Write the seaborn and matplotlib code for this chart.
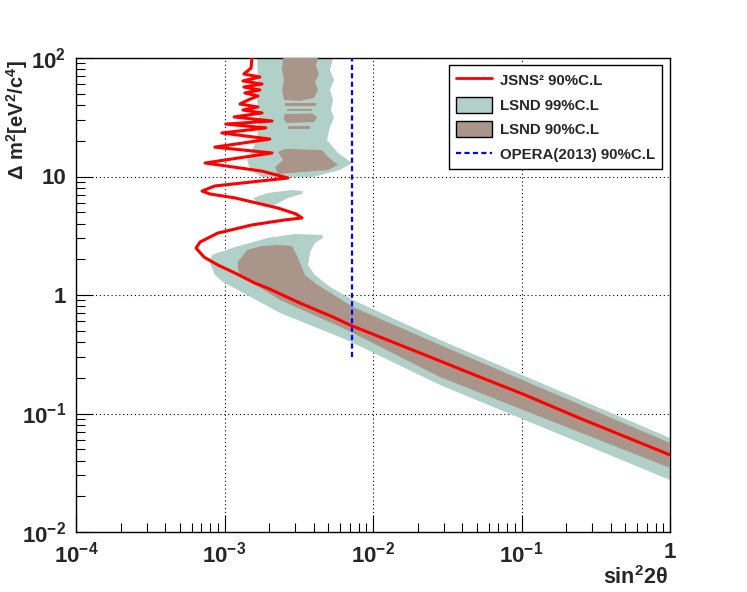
import matplotlib
matplotlib.use("Agg")
import matplotlib.pyplot as plt
import seaborn as sns
import pandas as pd
from matplotlib.ticker import LogLocator, NullFormatter, FixedLocator, FixedFormatter
from matplotlib.patches import Patch
from matplotlib.lines import Line2D

# ---------------- data ----------------
jsns_sin2 = [1.53e-3, 1.51e-3, 1.35e-3, 1.73e-3, 1.33e-3, 1.79e-3, 1.35e-3, 1.73e-3, 1.37e-3, 1.68e-3,
             1.44e-3, 1.27e-3, 1.68e-3, 1.33e-3, 1.79e-3, 1.16e-3, 2.09e-3, 1.02e-3, 1.90e-3, 9.6e-4,
             2.02e-3, 8.6e-4, 2.09e-3, 7.4e-4, 1.01e-3, 1.79e-3, 2.68e-3, 8.6e-4, 7.06e-4, 7.98e-4,
             1.18e-3, 2.29e-3, 3.03e-3, 3.33e-3, 2.55e-3, 1.53e-3, 9.0e-4, 6.84e-4, 6.43e-4, 7.28e-4,
             9.03e-4, 1.18e-3, 1.60e-3, 1.93e-3, 3.22e-3, 5.38e-3, 7.0e-3, 0.0111, 0.0242, 0.0525,
             0.102, 0.248, 1.0]
jsns_dm2 = [100, 82.3, 73.3, 69.1, 64.0, 60.3, 56.9, 53.7, 50.7, 47.8,
            44.2, 40.9, 38.6, 36.4, 34.4, 31.8, 29.4, 27.7, 25.7, 23.3,
            20.7, 17.7, 15.8, 13.0, 12.3, 11.1, 9.71, 8.32, 7.54, 7.12,
            6.59, 5.42, 4.83, 4.47, 4.30, 3.90, 3.33, 2.80, 2.49, 2.09,
            1.79, 1.53, 1.26, 1.15, 0.856, 0.652, 0.558, 0.443, 0.300, 0.203,
            0.146, 0.091, 0.0447]

# LSND 99% C.L. regions
lsnd99_top_sin2 = [1.66e-3, 5.38e-3, 5.13e-3, 5.46e-3, 5.13e-3, 5.38e-3, 5.21e-3, 5.46e-3, 5.13e-3, 4.90e-3,
                   5.38e-3, 5.81e-3, 7.22e-3, 6.00e-3, 3.94e-3, 1.79e-3, 1.49e-3, 1.42e-3, 1.53e-3, 1.66e-3,
                   1.71e-3, 1.66e-3, 1.68e-3]
lsnd99_top_dm2 = [100, 100, 79.3, 65.2, 53.7, 44.2, 36.4, 31.2, 26.2, 20.3,
                  17.7, 15.8, 13.0, 11.35, 9.9, 9.9, 11.35, 13.8, 16.7, 20.3,
                  30.0, 44.2, 65.2]
lsnd99_mid_sin2 = [1.56e-3, 1.96e-3, 2.85e-3, 3.38e-3, 3.33e-3, 2.68e-3, 2.37e-3, 2.12e-3, 1.88e-3, 1.68e-3]
lsnd99_mid_dm2 = [6.59, 7.26, 7.69, 7.54, 7.12, 6.59, 6.09, 5.64, 5.53, 5.98]
lsnd99_band_sin2 = [8.24e-4, 1.18e-3, 1.96e-3, 2.99e-3, 4.54e-3, 4.61e-3, 4.07e-3, 3.77e-3, 3.65e-3, 4.07e-3,
                    5.13e-3, 7.33e-3, 0.0283, 1.0, 1.0, 0.0283, 6.68e-3, 2.37e-3, 9.77e-4, 8.63e-4, 7.98e-4]
lsnd99_band_dm2 = [2.18, 2.54, 3.03, 3.27, 3.21, 3.03, 2.75, 2.31, 1.79, 1.47,
                   1.17, 0.908, 0.417, 0.0621, 0.0275, 0.174, 0.417, 0.705, 1.29, 1.47, 1.86]

# LSND 90% C.L. regions
lsnd90_top_sin2 = [2.48e-3, 4.26e-3, 4.13e-3, 4.33e-3, 4.07e-3, 4.26e-3, 4.01e-3, 3.22e-3, 2.52e-3, 2.44e-3, 2.52e-3, 2.44e-3]
lsnd90_top_dm2 = [100, 100, 85.6, 73.3, 62.7, 53.7, 46.0, 43.4, 44.2, 53.7, 65.2, 79.3]
lsnd90_s1_sin2 = [2.55e-3, 4.13e-3, 4.13e-3, 2.55e-3]
lsnd90_s1_dm2 = [41.7, 41.7, 39.4, 39.4]
lsnd90_s2_sin2 = [2.64e-3, 3.88e-3, 3.88e-3, 2.64e-3]
lsnd90_s2_dm2 = [37.1, 37.1, 35.7, 35.7]
lsnd90_s3_sin2 = [2.55e-3, 3.9e-3, 4.2e-3, 4.0e-3, 2.6e-3, 2.5e-3]
lsnd90_s3_dm2 = [33.7, 34.0, 31.5, 28.8, 28.3, 31.0]
lsnd90_s4_sin2 = [2.68e-3, 3.77e-3, 3.77e-3, 2.68e-3]
lsnd90_s4_dm2 = [26.7, 26.7, 25.2, 25.2]
lsnd90_blob_sin2 = [2.55e-3, 4.54e-3, 4.98e-3, 5.81e-3, 4.98e-3, 2.29e-3, 2.19e-3, 2.48e-3, 2.29e-3]
lsnd90_blob_dm2 = [17.1, 16.7, 14.6, 12.5, 11.35, 10.5, 12.0, 13.8, 16.1]
lsnd90_band_sin2 = [1.23e-3, 1.42e-3, 1.79e-3, 2.26e-3, 2.85e-3, 3.13e-3, 3.48e-3, 4.26e-3, 7.33e-3, 0.0283, 1.0,
                    1.0, 0.0283, 6.68e-3, 2.37e-3, 1.27e-3, 1.23e-3]
lsnd90_band_dm2 = [1.90, 2.40, 2.59, 2.64, 2.59, 2.05, 1.47, 1.21, 0.792, 0.379, 0.0564,
                   0.0347, 0.203, 0.507, 0.908, 1.47, 1.69]

opera_sin2 = [7.2e-3, 7.2e-3]
opera_dm2 = [0.30, 100]

x_ticks = [1e-4, 1e-3, 1e-2, 1e-1, 1]
x_ticklabels = [r"$\mathbf{10^{-4}}$", r"$\mathbf{10^{-3}}$", r"$\mathbf{10^{-2}}$", r"$\mathbf{10^{-1}}$", "1"]
y_ticks = [1e-2, 1e-1, 1, 10, 100]
y_ticklabels = [r"$\mathbf{10^{-2}}$", r"$\mathbf{10^{-1}}$", "1", "10", r"$\mathbf{10^{2}}$"]

legend_labels = ["JSNS² 90%C.L", "LSND 99%C.L", "LSND 90%C.L", "OPERA(2013) 90%C.L"]

# ---------------- style ----------------
sns.set_theme(style="white")
plt.rcParams["font.family"] = ["Liberation Sans", "DejaVu Sans"]
plt.rcParams["font.weight"] = "bold"
plt.rcParams["mathtext.fontset"] = "custom"
plt.rcParams["mathtext.rm"] = "Liberation Sans"
plt.rcParams["mathtext.bf"] = "Liberation Sans:bold"
plt.rcParams["mathtext.it"] = "Liberation Sans:italic"
plt.rcParams["mathtext.sf"] = "Liberation Sans"

teal = "#b0d0c8"
brown = "#a99589"

fig = plt.figure(figsize=(7.47, 5.92), dpi=100)
ax = fig.add_axes([76 / 747, 60 / 592, 594 / 747, 474 / 592])
ax.set_xscale("log")
ax.set_yscale("log")
ax.set_xlim(1e-4, 1)
ax.set_ylim(1e-2, 1e2)

# regions
for xs, ys in [(lsnd99_top_sin2, lsnd99_top_dm2), (lsnd99_mid_sin2, lsnd99_mid_dm2),
               (lsnd99_band_sin2, lsnd99_band_dm2)]:
    ax.fill(xs, ys, color=teal, lw=0, zorder=2)
for xs, ys in [(lsnd90_top_sin2, lsnd90_top_dm2), (lsnd90_s1_sin2, lsnd90_s1_dm2),
               (lsnd90_s2_sin2, lsnd90_s2_dm2), (lsnd90_s3_sin2, lsnd90_s3_dm2),
               (lsnd90_s4_sin2, lsnd90_s4_dm2), (lsnd90_blob_sin2, lsnd90_blob_dm2),
               (lsnd90_band_sin2, lsnd90_band_dm2)]:
    ax.fill(xs, ys, color=brown, lw=0, zorder=3)

# JSNS2 sensitivity line
df = pd.DataFrame({"sin2": jsns_sin2, "dm2": jsns_dm2})
sns.lineplot(data=df, x="sin2", y="dm2", sort=False, estimator=None, color="red",
             lw=2.2, ax=ax, zorder=5, legend=False)

# OPERA limit
ax.plot(opera_sin2, opera_dm2, color="blue", lw=1.6, dashes=(2.3, 1.5), zorder=4)

# axes cosmetics
ax.grid(True, which="major", color="black", linestyle=(0, (1, 2.5)), linewidth=0.8)
ax.set_axisbelow(True)
ax.xaxis.set_major_locator(FixedLocator(x_ticks))
ax.xaxis.set_major_formatter(FixedFormatter(x_ticklabels))
ax.yaxis.set_major_locator(FixedLocator(y_ticks))
ax.yaxis.set_major_formatter(FixedFormatter(y_ticklabels))
ax.xaxis.set_minor_locator(LogLocator(base=10, subs=range(2, 10), numticks=20))
ax.yaxis.set_minor_locator(LogLocator(base=10, subs=range(2, 10), numticks=20))
ax.xaxis.set_minor_formatter(NullFormatter())
ax.yaxis.set_minor_formatter(NullFormatter())
ax.tick_params(which="both", direction="in", top=False, right=False, bottom=True, left=True,
               color="black", width=0.8)
ax.tick_params(which="major", length=12, labelsize=16, pad=7)
ax.tick_params(which="minor", length=6.5)
for lab in ax.get_xticklabels() + ax.get_yticklabels():
    lab.set_fontweight("bold")
for sp in ax.spines.values():
    sp.set_color("black")
    sp.set_linewidth(1.0)
ax.set_xlabel("")
ax.set_ylabel("")

fig.text(668 / 747, 1 - 589 / 592, r"$\mathbf{sin^{2}2}\mathrm{\theta}$", ha="right", va="bottom",
         fontsize=15.5)
fig.text(17 / 747, 1 - 60 / 592, r"$\mathbf{\Delta\ m^{2}[eV^{2}/c^{4}]}$", rotation=90,
         ha="center", va="top", fontsize=14.5)

# legend
handles = [Line2D([], [], color="red", lw=2.0),
           Patch(facecolor=teal, edgecolor="black", lw=1.0),
           Patch(facecolor=brown, edgecolor="black", lw=1.0),
           Line2D([], [], color="blue", lw=1.6, dashes=(2.3, 1.5))]
leg = ax.legend(handles, legend_labels, loc="upper right", bbox_to_anchor=(662 / 747, 1 - 65 / 592),
                bbox_transform=fig.transFigure, borderaxespad=0, prop={"weight": "bold", "size": 10.8},
                frameon=True, fancybox=False, edgecolor="black", framealpha=1, handlelength=2.4,
                handleheight=1.27, labelspacing=0.58, handletextpad=0.55, borderpad=0.45)
leg.get_frame().set_linewidth(1.0)
leg.set_zorder(10)

fig.savefig("out.png", dpi=100)
